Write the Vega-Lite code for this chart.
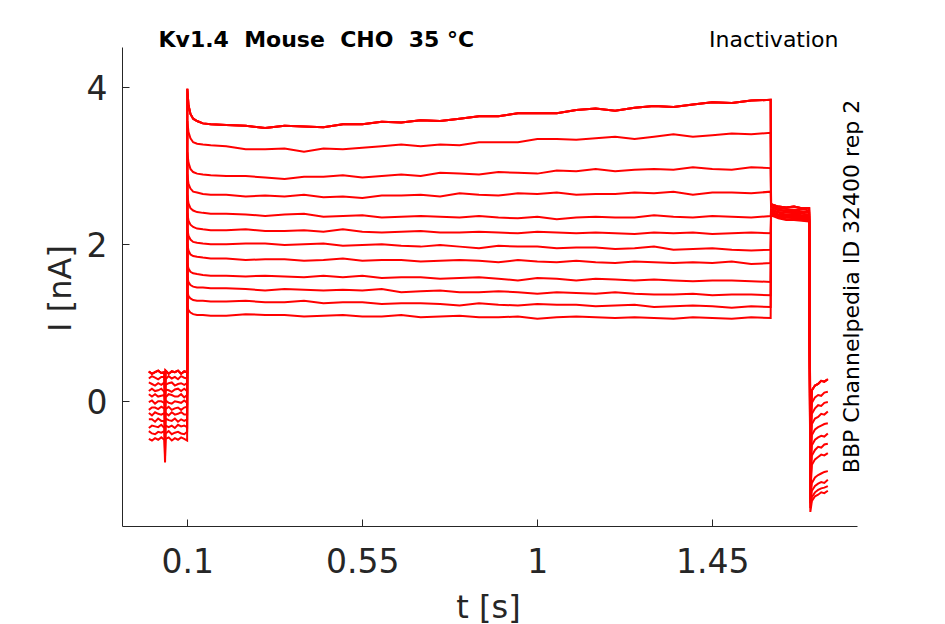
{
  "$schema": "https://vega.github.io/schema/vega-lite/v6.json",
  "width": 735,
  "height": 479,
  "autosize": {"type": "none"},
  "padding": {"left": 122, "top": 47, "right": 88, "bottom": 98},
  "background": "white",
  "config": {
    "view": {"stroke": null},
    "font": "DejaVu Sans",
    "axis": {"labelFont": "DejaVu Sans", "titleFont": "DejaVu Sans", "grid": false}
  },
  "data": {
    "values": [
      {"k":1,"t":0.001,"i":0.38},{"k":1,"t":0.009,"i":0.35},{"k":1,"t":0.017,"i":0.37},{"k":1,"t":0.025,"i":0.39},{"k":1,"t":0.033,"i":0.36},{"k":1,"t":0.041,"i":0.37},{"k":1,"t":0.0427,"i":0.07},{"k":1,"t":0.044,"i":0.39},{"k":1,"t":0.052,"i":0.35},{"k":1,"t":0.06,"i":0.38},{"k":1,"t":0.068,"i":0.37},{"k":1,"t":0.076,"i":0.39},{"k":1,"t":0.084,"i":0.35},{"k":1,"t":0.092,"i":0.38},{"k":1,"t":0.0995,"i":0.37},
      {"k":1,"t":0.1,"i":3.98},{"k":1,"t":0.103,"i":3.77},{"k":1,"t":0.108,"i":3.66},{"k":1,"t":0.115,"i":3.60},{"k":1,"t":0.125,"i":3.57},{"k":1,"t":0.14,"i":3.54},{"k":1,"t":0.16,"i":3.53},
      {"k":1,"t":0.2,"i":3.52},{"k":1,"t":0.25,"i":3.51},{"k":1,"t":0.3,"i":3.48},{"k":1,"t":0.35,"i":3.51},{"k":1,"t":0.4,"i":3.50},{"k":1,"t":0.45,"i":3.49},{"k":1,"t":0.5,"i":3.53},{"k":1,"t":0.55,"i":3.53},{"k":1,"t":0.6,"i":3.56},{"k":1,"t":0.65,"i":3.55},{"k":1,"t":0.7,"i":3.58},{"k":1,"t":0.75,"i":3.57},{"k":1,"t":0.8,"i":3.60},{"k":1,"t":0.85,"i":3.63},{"k":1,"t":0.9,"i":3.63},{"k":1,"t":0.95,"i":3.67},{"k":1,"t":1,"i":3.67},{"k":1,"t":1.05,"i":3.67},{"k":1,"t":1.1,"i":3.71},{"k":1,"t":1.15,"i":3.73},{"k":1,"t":1.2,"i":3.70},{"k":1,"t":1.25,"i":3.74},{"k":1,"t":1.3,"i":3.76},{"k":1,"t":1.35,"i":3.75},{"k":1,"t":1.4,"i":3.78},{"k":1,"t":1.45,"i":3.81},{"k":1,"t":1.5,"i":3.80},{"k":1,"t":1.55,"i":3.83},{"k":1,"t":1.6,"i":3.84},
      {"k":1,"t":1.601,"i":2.51},{"k":1,"t":1.62,"i":2.48},{"k":1,"t":1.64,"i":2.47},{"k":1,"t":1.66,"i":2.48},{"k":1,"t":1.68,"i":2.46},{"k":1,"t":1.699,"i":2.46},
      {"k":1,"t":1.702,"i":-0.40},{"k":1,"t":1.706,"i":0.14},{"k":1,"t":1.714,"i":0.20},{"k":1,"t":1.722,"i":0.22},{"k":1,"t":1.73,"i":0.26},{"k":1,"t":1.738,"i":0.25},{"k":1,"t":1.747,"i":0.28},

      {"k":2,"t":0.001,"i":0.29},{"k":2,"t":0.009,"i":0.32},{"k":2,"t":0.017,"i":0.30},{"k":2,"t":0.025,"i":0.28},{"k":2,"t":0.033,"i":0.31},{"k":2,"t":0.041,"i":0.31},{"k":2,"t":0.0427,"i":0.00},{"k":2,"t":0.044,"i":0.28},{"k":2,"t":0.052,"i":0.32},{"k":2,"t":0.06,"i":0.29},{"k":2,"t":0.068,"i":0.31},{"k":2,"t":0.076,"i":0.28},{"k":2,"t":0.084,"i":0.32},{"k":2,"t":0.092,"i":0.30},{"k":2,"t":0.0995,"i":0.29},
      {"k":2,"t":0.1,"i":3.57},{"k":2,"t":0.103,"i":3.43},{"k":2,"t":0.108,"i":3.35},{"k":2,"t":0.115,"i":3.30},{"k":2,"t":0.125,"i":3.28},{"k":2,"t":0.14,"i":3.27},{"k":2,"t":0.16,"i":3.26},
      {"k":2,"t":0.2,"i":3.25},{"k":2,"t":0.25,"i":3.21},{"k":2,"t":0.3,"i":3.21},{"k":2,"t":0.35,"i":3.22},{"k":2,"t":0.4,"i":3.18},{"k":2,"t":0.45,"i":3.22},{"k":2,"t":0.5,"i":3.21},{"k":2,"t":0.55,"i":3.23},{"k":2,"t":0.6,"i":3.25},{"k":2,"t":0.65,"i":3.27},{"k":2,"t":0.7,"i":3.25},{"k":2,"t":0.75,"i":3.27},{"k":2,"t":0.8,"i":3.26},{"k":2,"t":0.85,"i":3.30},{"k":2,"t":0.9,"i":3.30},{"k":2,"t":0.95,"i":3.30},{"k":2,"t":1,"i":3.34},{"k":2,"t":1.05,"i":3.34},{"k":2,"t":1.1,"i":3.33},{"k":2,"t":1.15,"i":3.35},{"k":2,"t":1.2,"i":3.37},{"k":2,"t":1.25,"i":3.34},{"k":2,"t":1.3,"i":3.37},{"k":2,"t":1.35,"i":3.40},{"k":2,"t":1.4,"i":3.37},{"k":2,"t":1.45,"i":3.39},{"k":2,"t":1.5,"i":3.41},{"k":2,"t":1.55,"i":3.40},{"k":2,"t":1.6,"i":3.42},
      {"k":2,"t":1.601,"i":2.50},{"k":2,"t":1.62,"i":2.46},{"k":2,"t":1.64,"i":2.45},{"k":2,"t":1.66,"i":2.44},{"k":2,"t":1.68,"i":2.45},{"k":2,"t":1.699,"i":2.43},
      {"k":2,"t":1.702,"i":-0.55},{"k":2,"t":1.706,"i":-0.02},{"k":2,"t":1.714,"i":0.05},{"k":2,"t":1.722,"i":0.08},{"k":2,"t":1.73,"i":0.07},{"k":2,"t":1.738,"i":0.11},{"k":2,"t":1.747,"i":0.12},

      {"k":3,"t":0.001,"i":0.24},{"k":3,"t":0.009,"i":0.22},{"k":3,"t":0.017,"i":0.20},{"k":3,"t":0.025,"i":0.23},{"k":3,"t":0.033,"i":0.21},{"k":3,"t":0.041,"i":0.24},{"k":3,"t":0.0427,"i":-0.08},{"k":3,"t":0.044,"i":0.21},{"k":3,"t":0.052,"i":0.23},{"k":3,"t":0.06,"i":0.24},{"k":3,"t":0.068,"i":0.20},{"k":3,"t":0.076,"i":0.22},{"k":3,"t":0.084,"i":0.23},{"k":3,"t":0.092,"i":0.21},{"k":3,"t":0.0995,"i":0.23},
      {"k":3,"t":0.1,"i":3.17},{"k":3,"t":0.103,"i":3.04},{"k":3,"t":0.108,"i":2.96},{"k":3,"t":0.115,"i":2.92},{"k":3,"t":0.125,"i":2.90},{"k":3,"t":0.14,"i":2.89},{"k":3,"t":0.16,"i":2.88},
      {"k":3,"t":0.2,"i":2.87},{"k":3,"t":0.25,"i":2.87},{"k":3,"t":0.3,"i":2.85},{"k":3,"t":0.35,"i":2.83},{"k":3,"t":0.4,"i":2.86},{"k":3,"t":0.45,"i":2.86},{"k":3,"t":0.5,"i":2.88},{"k":3,"t":0.55,"i":2.85},{"k":3,"t":0.6,"i":2.87},{"k":3,"t":0.65,"i":2.89},{"k":3,"t":0.7,"i":2.87},{"k":3,"t":0.75,"i":2.91},{"k":3,"t":0.8,"i":2.90},{"k":3,"t":0.85,"i":2.89},{"k":3,"t":0.9,"i":2.92},{"k":3,"t":0.95,"i":2.91},{"k":3,"t":1,"i":2.90},{"k":3,"t":1.05,"i":2.94},{"k":3,"t":1.1,"i":2.93},{"k":3,"t":1.15,"i":2.96},{"k":3,"t":1.2,"i":2.93},{"k":3,"t":1.25,"i":2.95},{"k":3,"t":1.3,"i":2.96},{"k":3,"t":1.35,"i":2.95},{"k":3,"t":1.4,"i":2.98},{"k":3,"t":1.45,"i":2.96},{"k":3,"t":1.5,"i":2.95},{"k":3,"t":1.55,"i":2.98},{"k":3,"t":1.6,"i":2.97},
      {"k":3,"t":1.601,"i":2.48},{"k":3,"t":1.62,"i":2.44},{"k":3,"t":1.64,"i":2.43},{"k":3,"t":1.66,"i":2.43},{"k":3,"t":1.68,"i":2.42},{"k":3,"t":1.699,"i":2.41},
      {"k":3,"t":1.702,"i":-0.70},{"k":3,"t":1.706,"i":-0.16},{"k":3,"t":1.714,"i":-0.09},{"k":3,"t":1.722,"i":-0.05},{"k":3,"t":1.73,"i":-0.06},{"k":3,"t":1.738,"i":-0.02},{"k":3,"t":1.747,"i":-0.01},

      {"k":4,"t":0.001,"i":0.13},{"k":4,"t":0.009,"i":0.16},{"k":4,"t":0.017,"i":0.13},{"k":4,"t":0.025,"i":0.14},{"k":4,"t":0.033,"i":0.16},{"k":4,"t":0.041,"i":0.12},{"k":4,"t":0.0427,"i":-0.16},{"k":4,"t":0.044,"i":0.15},{"k":4,"t":0.052,"i":0.14},{"k":4,"t":0.06,"i":0.12},{"k":4,"t":0.068,"i":0.15},{"k":4,"t":0.076,"i":0.16},{"k":4,"t":0.084,"i":0.13},{"k":4,"t":0.092,"i":0.16},{"k":4,"t":0.0995,"i":0.13},
      {"k":4,"t":0.1,"i":2.89},{"k":4,"t":0.103,"i":2.77},{"k":4,"t":0.108,"i":2.71},{"k":4,"t":0.115,"i":2.67},{"k":4,"t":0.125,"i":2.66},{"k":4,"t":0.14,"i":2.64},{"k":4,"t":0.16,"i":2.63},
      {"k":4,"t":0.2,"i":2.63},{"k":4,"t":0.25,"i":2.61},{"k":4,"t":0.3,"i":2.62},{"k":4,"t":0.35,"i":2.61},{"k":4,"t":0.4,"i":2.63},{"k":4,"t":0.45,"i":2.60},{"k":4,"t":0.5,"i":2.61},{"k":4,"t":0.55,"i":2.59},{"k":4,"t":0.6,"i":2.62},{"k":4,"t":0.65,"i":2.62},{"k":4,"t":0.7,"i":2.63},{"k":4,"t":0.75,"i":2.61},{"k":4,"t":0.8,"i":2.65},{"k":4,"t":0.85,"i":2.63},{"k":4,"t":0.9,"i":2.62},{"k":4,"t":0.95,"i":2.65},{"k":4,"t":1,"i":2.64},{"k":4,"t":1.05,"i":2.66},{"k":4,"t":1.1,"i":2.63},{"k":4,"t":1.15,"i":2.64},{"k":4,"t":1.2,"i":2.64},{"k":4,"t":1.25,"i":2.66},{"k":4,"t":1.3,"i":2.65},{"k":4,"t":1.35,"i":2.67},{"k":4,"t":1.4,"i":2.63},{"k":4,"t":1.45,"i":2.66},{"k":4,"t":1.5,"i":2.66},{"k":4,"t":1.55,"i":2.65},{"k":4,"t":1.6,"i":2.67},
      {"k":4,"t":1.601,"i":2.47},{"k":4,"t":1.62,"i":2.43},{"k":4,"t":1.64,"i":2.42},{"k":4,"t":1.66,"i":2.41},{"k":4,"t":1.68,"i":2.41},{"k":4,"t":1.699,"i":2.40},
      {"k":4,"t":1.702,"i":-0.80},{"k":4,"t":1.706,"i":-0.29},{"k":4,"t":1.714,"i":-0.22},{"k":4,"t":1.722,"i":-0.20},{"k":4,"t":1.73,"i":-0.16},{"k":4,"t":1.738,"i":-0.17},{"k":4,"t":1.747,"i":-0.13},

      {"k":5,"t":0.001,"i":0.09},{"k":5,"t":0.009,"i":0.06},{"k":5,"t":0.017,"i":0.09},{"k":5,"t":0.025,"i":0.06},{"k":5,"t":0.033,"i":0.07},{"k":5,"t":0.041,"i":0.08},{"k":5,"t":0.0427,"i":-0.23},{"k":5,"t":0.044,"i":0.05},{"k":5,"t":0.052,"i":0.09},{"k":5,"t":0.06,"i":0.08},{"k":5,"t":0.068,"i":0.06},{"k":5,"t":0.076,"i":0.06},{"k":5,"t":0.084,"i":0.09},{"k":5,"t":0.092,"i":0.05},{"k":5,"t":0.0995,"i":0.08},
      {"k":5,"t":0.1,"i":2.63},{"k":5,"t":0.103,"i":2.52},{"k":5,"t":0.108,"i":2.46},{"k":5,"t":0.115,"i":2.43},{"k":5,"t":0.125,"i":2.41},{"k":5,"t":0.14,"i":2.40},{"k":5,"t":0.16,"i":2.39},
      {"k":5,"t":0.2,"i":2.39},{"k":5,"t":0.25,"i":2.38},{"k":5,"t":0.3,"i":2.36},{"k":5,"t":0.35,"i":2.38},{"k":5,"t":0.4,"i":2.39},{"k":5,"t":0.45,"i":2.35},{"k":5,"t":0.5,"i":2.36},{"k":5,"t":0.55,"i":2.37},{"k":5,"t":0.6,"i":2.34},{"k":5,"t":0.65,"i":2.35},{"k":5,"t":0.7,"i":2.36},{"k":5,"t":0.75,"i":2.35},{"k":5,"t":0.8,"i":2.34},{"k":5,"t":0.85,"i":2.36},{"k":5,"t":0.9,"i":2.34},{"k":5,"t":0.95,"i":2.33},{"k":5,"t":1,"i":2.35},{"k":5,"t":1.05,"i":2.32},{"k":5,"t":1.1,"i":2.34},{"k":5,"t":1.15,"i":2.35},{"k":5,"t":1.2,"i":2.34},{"k":5,"t":1.25,"i":2.34},{"k":5,"t":1.3,"i":2.37},{"k":5,"t":1.35,"i":2.35},{"k":5,"t":1.4,"i":2.34},{"k":5,"t":1.45,"i":2.36},{"k":5,"t":1.5,"i":2.35},{"k":5,"t":1.55,"i":2.34},{"k":5,"t":1.6,"i":2.36},
      {"k":5,"t":1.601,"i":2.45},{"k":5,"t":1.62,"i":2.41},{"k":5,"t":1.64,"i":2.40},{"k":5,"t":1.66,"i":2.40},{"k":5,"t":1.68,"i":2.39},{"k":5,"t":1.699,"i":2.38},
      {"k":5,"t":1.702,"i":-0.90},{"k":5,"t":1.706,"i":-0.43},{"k":5,"t":1.714,"i":-0.36},{"k":5,"t":1.722,"i":-0.33},{"k":5,"t":1.73,"i":-0.31},{"k":5,"t":1.738,"i":-0.29},{"k":5,"t":1.747,"i":-0.28},

      {"k":6,"t":0.001,"i":-0.01},{"k":6,"t":0.009,"i":0.01},{"k":6,"t":0.017,"i":-0.03},{"k":6,"t":0.025,"i":0.00},{"k":6,"t":0.033,"i":0.00},{"k":6,"t":0.041,"i":-0.02},{"k":6,"t":0.0427,"i":-0.31},{"k":6,"t":0.044,"i":0.01},{"k":6,"t":0.052,"i":-0.02},{"k":6,"t":0.06,"i":-0.03},{"k":6,"t":0.068,"i":0.00},{"k":6,"t":0.076,"i":-0.01},{"k":6,"t":0.084,"i":-0.02},{"k":6,"t":0.092,"i":0.01},{"k":6,"t":0.0995,"i":-0.02},
      {"k":6,"t":0.1,"i":2.40},{"k":6,"t":0.103,"i":2.30},{"k":6,"t":0.108,"i":2.25},{"k":6,"t":0.115,"i":2.22},{"k":6,"t":0.125,"i":2.20},{"k":6,"t":0.14,"i":2.19},{"k":6,"t":0.16,"i":2.18},
      {"k":6,"t":0.2,"i":2.18},{"k":6,"t":0.25,"i":2.19},{"k":6,"t":0.3,"i":2.17},{"k":6,"t":0.35,"i":2.17},{"k":6,"t":0.4,"i":2.18},{"k":6,"t":0.45,"i":2.16},{"k":6,"t":0.5,"i":2.19},{"k":6,"t":0.55,"i":2.16},{"k":6,"t":0.6,"i":2.15},{"k":6,"t":0.65,"i":2.16},{"k":6,"t":0.7,"i":2.17},{"k":6,"t":0.75,"i":2.15},{"k":6,"t":0.8,"i":2.15},{"k":6,"t":0.85,"i":2.16},{"k":6,"t":0.9,"i":2.15},{"k":6,"t":0.95,"i":2.14},{"k":6,"t":1,"i":2.16},{"k":6,"t":1.05,"i":2.15},{"k":6,"t":1.1,"i":2.14},{"k":6,"t":1.15,"i":2.15},{"k":6,"t":1.2,"i":2.14},{"k":6,"t":1.25,"i":2.13},{"k":6,"t":1.3,"i":2.15},{"k":6,"t":1.35,"i":2.14},{"k":6,"t":1.4,"i":2.15},{"k":6,"t":1.45,"i":2.13},{"k":6,"t":1.5,"i":2.14},{"k":6,"t":1.55,"i":2.15},{"k":6,"t":1.6,"i":2.14},
      {"k":6,"t":1.601,"i":2.44},{"k":6,"t":1.62,"i":2.40},{"k":6,"t":1.64,"i":2.38},{"k":6,"t":1.66,"i":2.39},{"k":6,"t":1.68,"i":2.37},{"k":6,"t":1.699,"i":2.37},
      {"k":6,"t":1.702,"i":-1.00},{"k":6,"t":1.706,"i":-0.56},{"k":6,"t":1.714,"i":-0.49},{"k":6,"t":1.722,"i":-0.46},{"k":6,"t":1.73,"i":-0.44},{"k":6,"t":1.738,"i":-0.45},{"k":6,"t":1.747,"i":-0.41},

      {"k":7,"t":0.001,"i":-0.11},{"k":7,"t":0.009,"i":-0.08},{"k":7,"t":0.017,"i":-0.08},{"k":7,"t":0.025,"i":-0.10},{"k":7,"t":0.033,"i":-0.07},{"k":7,"t":0.041,"i":-0.09},{"k":7,"t":0.0427,"i":-0.39},{"k":7,"t":0.044,"i":-0.10},{"k":7,"t":0.052,"i":-0.07},{"k":7,"t":0.06,"i":-0.11},{"k":7,"t":0.068,"i":-0.09},{"k":7,"t":0.076,"i":-0.08},{"k":7,"t":0.084,"i":-0.11},{"k":7,"t":0.092,"i":-0.08},{"k":7,"t":0.0995,"i":-0.07},
      {"k":7,"t":0.1,"i":2.20},{"k":7,"t":0.103,"i":2.11},{"k":7,"t":0.108,"i":2.06},{"k":7,"t":0.115,"i":2.03},{"k":7,"t":0.125,"i":2.02},{"k":7,"t":0.14,"i":2.01},{"k":7,"t":0.16,"i":2.00},
      {"k":7,"t":0.2,"i":2.00},{"k":7,"t":0.25,"i":2.01},{"k":7,"t":0.3,"i":2.01},{"k":7,"t":0.35,"i":1.99},{"k":7,"t":0.4,"i":2.00},{"k":7,"t":0.45,"i":2.01},{"k":7,"t":0.5,"i":1.98},{"k":7,"t":0.55,"i":1.99},{"k":7,"t":0.6,"i":2.00},{"k":7,"t":0.65,"i":1.98},{"k":7,"t":0.7,"i":1.97},{"k":7,"t":0.75,"i":1.99},{"k":7,"t":0.8,"i":1.97},{"k":7,"t":0.85,"i":1.95},{"k":7,"t":0.9,"i":1.98},{"k":7,"t":0.95,"i":1.97},{"k":7,"t":1,"i":1.97},{"k":7,"t":1.05,"i":1.95},{"k":7,"t":1.1,"i":1.96},{"k":7,"t":1.15,"i":1.96},{"k":7,"t":1.2,"i":1.94},{"k":7,"t":1.25,"i":1.95},{"k":7,"t":1.3,"i":1.97},{"k":7,"t":1.35,"i":1.93},{"k":7,"t":1.4,"i":1.94},{"k":7,"t":1.45,"i":1.95},{"k":7,"t":1.5,"i":1.93},{"k":7,"t":1.55,"i":1.92},{"k":7,"t":1.6,"i":1.93},
      {"k":7,"t":1.601,"i":2.42},{"k":7,"t":1.62,"i":2.38},{"k":7,"t":1.64,"i":2.37},{"k":7,"t":1.66,"i":2.36},{"k":7,"t":1.68,"i":2.36},{"k":7,"t":1.699,"i":2.35},
      {"k":7,"t":1.702,"i":-1.10},{"k":7,"t":1.706,"i":-0.69},{"k":7,"t":1.714,"i":-0.62},{"k":7,"t":1.722,"i":-0.58},{"k":7,"t":1.73,"i":-0.59},{"k":7,"t":1.738,"i":-0.55},{"k":7,"t":1.747,"i":-0.54},

      {"k":8,"t":0.001,"i":-0.15},{"k":8,"t":0.009,"i":-0.18},{"k":8,"t":0.017,"i":-0.14},{"k":8,"t":0.025,"i":-0.16},{"k":8,"t":0.033,"i":-0.17},{"k":8,"t":0.041,"i":-0.15},{"k":8,"t":0.0427,"i":-0.46},{"k":8,"t":0.044,"i":-0.15},{"k":8,"t":0.052,"i":-0.18},{"k":8,"t":0.06,"i":-0.14},{"k":8,"t":0.068,"i":-0.17},{"k":8,"t":0.076,"i":-0.16},{"k":8,"t":0.084,"i":-0.14},{"k":8,"t":0.092,"i":-0.17},{"k":8,"t":0.0995,"i":-0.17},
      {"k":8,"t":0.1,"i":2.00},{"k":8,"t":0.103,"i":1.92},{"k":8,"t":0.108,"i":1.87},{"k":8,"t":0.115,"i":1.85},{"k":8,"t":0.125,"i":1.84},{"k":8,"t":0.14,"i":1.83},{"k":8,"t":0.16,"i":1.82},
      {"k":8,"t":0.2,"i":1.82},{"k":8,"t":0.25,"i":1.80},{"k":8,"t":0.3,"i":1.81},{"k":8,"t":0.35,"i":1.81},{"k":8,"t":0.4,"i":1.79},{"k":8,"t":0.45,"i":1.80},{"k":8,"t":0.5,"i":1.82},{"k":8,"t":0.55,"i":1.79},{"k":8,"t":0.6,"i":1.80},{"k":8,"t":0.65,"i":1.80},{"k":8,"t":0.7,"i":1.78},{"k":8,"t":0.75,"i":1.79},{"k":8,"t":0.8,"i":1.80},{"k":8,"t":0.85,"i":1.79},{"k":8,"t":0.9,"i":1.77},{"k":8,"t":0.95,"i":1.80},{"k":8,"t":1,"i":1.78},{"k":8,"t":1.05,"i":1.77},{"k":8,"t":1.1,"i":1.79},{"k":8,"t":1.15,"i":1.77},{"k":8,"t":1.2,"i":1.76},{"k":8,"t":1.25,"i":1.78},{"k":8,"t":1.3,"i":1.77},{"k":8,"t":1.35,"i":1.76},{"k":8,"t":1.4,"i":1.77},{"k":8,"t":1.45,"i":1.76},{"k":8,"t":1.5,"i":1.78},{"k":8,"t":1.55,"i":1.75},{"k":8,"t":1.6,"i":1.76},
      {"k":8,"t":1.601,"i":2.41},{"k":8,"t":1.62,"i":2.37},{"k":8,"t":1.64,"i":2.36},{"k":8,"t":1.66,"i":2.35},{"k":8,"t":1.68,"i":2.34},{"k":8,"t":1.699,"i":2.34},
      {"k":8,"t":1.702,"i":-1.18},{"k":8,"t":1.706,"i":-0.81},{"k":8,"t":1.714,"i":-0.74},{"k":8,"t":1.722,"i":-0.71},{"k":8,"t":1.73,"i":-0.68},{"k":8,"t":1.738,"i":-0.69},{"k":8,"t":1.747,"i":-0.66},

      {"k":9,"t":0.001,"i":-0.23},{"k":9,"t":0.009,"i":-0.23},{"k":9,"t":0.017,"i":-0.26},{"k":9,"t":0.025,"i":-0.22},{"k":9,"t":0.033,"i":-0.25},{"k":9,"t":0.041,"i":-0.25},{"k":9,"t":0.0427,"i":-0.54},{"k":9,"t":0.044,"i":-0.22},{"k":9,"t":0.052,"i":-0.24},{"k":9,"t":0.06,"i":-0.25},{"k":9,"t":0.068,"i":-0.22},{"k":9,"t":0.076,"i":-0.26},{"k":9,"t":0.084,"i":-0.23},{"k":9,"t":0.092,"i":-0.25},{"k":9,"t":0.0995,"i":-0.23},
      {"k":9,"t":0.1,"i":1.76},{"k":9,"t":0.103,"i":1.69},{"k":9,"t":0.108,"i":1.65},{"k":9,"t":0.115,"i":1.63},{"k":9,"t":0.125,"i":1.62},{"k":9,"t":0.14,"i":1.61},{"k":9,"t":0.16,"i":1.60},
      {"k":9,"t":0.2,"i":1.60},{"k":9,"t":0.25,"i":1.59},{"k":9,"t":0.3,"i":1.60},{"k":9,"t":0.35,"i":1.59},{"k":9,"t":0.4,"i":1.58},{"k":9,"t":0.45,"i":1.60},{"k":9,"t":0.5,"i":1.58},{"k":9,"t":0.55,"i":1.60},{"k":9,"t":0.6,"i":1.57},{"k":9,"t":0.65,"i":1.58},{"k":9,"t":0.7,"i":1.58},{"k":9,"t":0.75,"i":1.56},{"k":9,"t":0.8,"i":1.57},{"k":9,"t":0.85,"i":1.58},{"k":9,"t":0.9,"i":1.56},{"k":9,"t":0.95,"i":1.54},{"k":9,"t":1,"i":1.57},{"k":9,"t":1.05,"i":1.56},{"k":9,"t":1.1,"i":1.54},{"k":9,"t":1.15,"i":1.56},{"k":9,"t":1.2,"i":1.55},{"k":9,"t":1.25,"i":1.54},{"k":9,"t":1.3,"i":1.55},{"k":9,"t":1.35,"i":1.54},{"k":9,"t":1.4,"i":1.53},{"k":9,"t":1.45,"i":1.54},{"k":9,"t":1.5,"i":1.54},{"k":9,"t":1.55,"i":1.53},{"k":9,"t":1.6,"i":1.52},
      {"k":9,"t":1.601,"i":2.40},{"k":9,"t":1.62,"i":2.36},{"k":9,"t":1.64,"i":2.34},{"k":9,"t":1.66,"i":2.35},{"k":9,"t":1.68,"i":2.33},{"k":9,"t":1.699,"i":2.32},
      {"k":9,"t":1.702,"i":-1.25},{"k":9,"t":1.706,"i":-1.04},{"k":9,"t":1.714,"i":-0.97},{"k":9,"t":1.722,"i":-0.94},{"k":9,"t":1.73,"i":-0.92},{"k":9,"t":1.738,"i":-0.90},{"k":9,"t":1.747,"i":-0.89},

      {"k":10,"t":0.001,"i":-0.34},{"k":10,"t":0.009,"i":-0.31},{"k":10,"t":0.017,"i":-0.32},{"k":10,"t":0.025,"i":-0.33},{"k":10,"t":0.033,"i":-0.30},{"k":10,"t":0.041,"i":-0.34},{"k":10,"t":0.0427,"i":-0.62},{"k":10,"t":0.044,"i":-0.31},{"k":10,"t":0.052,"i":-0.33},{"k":10,"t":0.06,"i":-0.31},{"k":10,"t":0.068,"i":-0.34},{"k":10,"t":0.076,"i":-0.30},{"k":10,"t":0.084,"i":-0.32},{"k":10,"t":0.092,"i":-0.31},{"k":10,"t":0.0995,"i":-0.33},
      {"k":10,"t":0.1,"i":1.58},{"k":10,"t":0.103,"i":1.52},{"k":10,"t":0.108,"i":1.48},{"k":10,"t":0.115,"i":1.46},{"k":10,"t":0.125,"i":1.45},{"k":10,"t":0.14,"i":1.45},{"k":10,"t":0.16,"i":1.44},
      {"k":10,"t":0.2,"i":1.44},{"k":10,"t":0.25,"i":1.43},{"k":10,"t":0.3,"i":1.41},{"k":10,"t":0.35,"i":1.43},{"k":10,"t":0.4,"i":1.42},{"k":10,"t":0.45,"i":1.41},{"k":10,"t":0.5,"i":1.42},{"k":10,"t":0.55,"i":1.41},{"k":10,"t":0.6,"i":1.43},{"k":10,"t":0.65,"i":1.39},{"k":10,"t":0.7,"i":1.40},{"k":10,"t":0.75,"i":1.41},{"k":10,"t":0.8,"i":1.39},{"k":10,"t":0.85,"i":1.39},{"k":10,"t":0.9,"i":1.40},{"k":10,"t":0.95,"i":1.39},{"k":10,"t":1,"i":1.37},{"k":10,"t":1.05,"i":1.39},{"k":10,"t":1.1,"i":1.38},{"k":10,"t":1.15,"i":1.37},{"k":10,"t":1.2,"i":1.39},{"k":10,"t":1.25,"i":1.37},{"k":10,"t":1.3,"i":1.36},{"k":10,"t":1.35,"i":1.36},{"k":10,"t":1.4,"i":1.37},{"k":10,"t":1.45,"i":1.35},{"k":10,"t":1.5,"i":1.36},{"k":10,"t":1.55,"i":1.36},{"k":10,"t":1.6,"i":1.35},
      {"k":10,"t":1.601,"i":2.39},{"k":10,"t":1.62,"i":2.35},{"k":10,"t":1.64,"i":2.34},{"k":10,"t":1.66,"i":2.33},{"k":10,"t":1.68,"i":2.32},{"k":10,"t":1.699,"i":2.31},
      {"k":10,"t":1.702,"i":-1.30},{"k":10,"t":1.706,"i":-1.14},{"k":10,"t":1.714,"i":-1.08},{"k":10,"t":1.722,"i":-1.05},{"k":10,"t":1.73,"i":-1.03},{"k":10,"t":1.738,"i":-1.04},{"k":10,"t":1.747,"i":-1.00},

      {"k":11,"t":0.001,"i":-0.38},{"k":11,"t":0.009,"i":-0.41},{"k":11,"t":0.017,"i":-0.42},{"k":11,"t":0.025,"i":-0.39},{"k":11,"t":0.033,"i":-0.40},{"k":11,"t":0.041,"i":-0.38},{"k":11,"t":0.0427,"i":-0.70},{"k":11,"t":0.044,"i":-0.41},{"k":11,"t":0.052,"i":-0.38},{"k":11,"t":0.06,"i":-0.42},{"k":11,"t":0.068,"i":-0.40},{"k":11,"t":0.076,"i":-0.39},{"k":11,"t":0.084,"i":-0.41},{"k":11,"t":0.092,"i":-0.42},{"k":11,"t":0.0995,"i":-0.39},
      {"k":11,"t":0.1,"i":1.40},{"k":11,"t":0.103,"i":1.34},{"k":11,"t":0.108,"i":1.31},{"k":11,"t":0.115,"i":1.29},{"k":11,"t":0.125,"i":1.28},{"k":11,"t":0.14,"i":1.28},{"k":11,"t":0.16,"i":1.27},
      {"k":11,"t":0.2,"i":1.27},{"k":11,"t":0.25,"i":1.28},{"k":11,"t":0.3,"i":1.26},{"k":11,"t":0.35,"i":1.26},{"k":11,"t":0.4,"i":1.28},{"k":11,"t":0.45,"i":1.25},{"k":11,"t":0.5,"i":1.26},{"k":11,"t":0.55,"i":1.26},{"k":11,"t":0.6,"i":1.24},{"k":11,"t":0.65,"i":1.25},{"k":11,"t":0.7,"i":1.25},{"k":11,"t":0.75,"i":1.24},{"k":11,"t":0.8,"i":1.22},{"k":11,"t":0.85,"i":1.25},{"k":11,"t":0.9,"i":1.23},{"k":11,"t":0.95,"i":1.22},{"k":11,"t":1,"i":1.24},{"k":11,"t":1.05,"i":1.23},{"k":11,"t":1.1,"i":1.23},{"k":11,"t":1.15,"i":1.21},{"k":11,"t":1.2,"i":1.22},{"k":11,"t":1.25,"i":1.23},{"k":11,"t":1.3,"i":1.20},{"k":11,"t":1.35,"i":1.21},{"k":11,"t":1.4,"i":1.22},{"k":11,"t":1.45,"i":1.21},{"k":11,"t":1.5,"i":1.19},{"k":11,"t":1.55,"i":1.21},{"k":11,"t":1.6,"i":1.20},
      {"k":11,"t":1.601,"i":2.38},{"k":11,"t":1.62,"i":2.34},{"k":11,"t":1.64,"i":2.32},{"k":11,"t":1.66,"i":2.32},{"k":11,"t":1.68,"i":2.31},{"k":11,"t":1.699,"i":2.30},
      {"k":11,"t":1.702,"i":-1.36},{"k":11,"t":1.706,"i":-1.22},{"k":11,"t":1.714,"i":-1.16},{"k":11,"t":1.722,"i":-1.13},{"k":11,"t":1.73,"i":-1.11},{"k":11,"t":1.738,"i":-1.10},{"k":11,"t":1.747,"i":-1.08},

      {"k":12,"t":0.001,"i":-0.48},{"k":12,"t":0.009,"i":-0.50},{"k":12,"t":0.017,"i":-0.47},{"k":12,"t":0.025,"i":-0.49},{"k":12,"t":0.033,"i":-0.46},{"k":12,"t":0.041,"i":-0.49},{"k":12,"t":0.0427,"i":-0.78},{"k":12,"t":0.044,"i":-0.48},{"k":12,"t":0.052,"i":-0.46},{"k":12,"t":0.06,"i":-0.50},{"k":12,"t":0.068,"i":-0.47},{"k":12,"t":0.076,"i":-0.49},{"k":12,"t":0.084,"i":-0.46},{"k":12,"t":0.092,"i":-0.48},{"k":12,"t":0.0995,"i":-0.50},
      {"k":12,"t":0.1,"i":1.21},{"k":12,"t":0.103,"i":1.16},{"k":12,"t":0.108,"i":1.13},{"k":12,"t":0.115,"i":1.11},{"k":12,"t":0.125,"i":1.10},{"k":12,"t":0.14,"i":1.10},{"k":12,"t":0.16,"i":1.09},
      {"k":12,"t":0.2,"i":1.09},{"k":12,"t":0.25,"i":1.11},{"k":12,"t":0.3,"i":1.10},{"k":12,"t":0.35,"i":1.10},{"k":12,"t":0.4,"i":1.08},{"k":12,"t":0.45,"i":1.09},{"k":12,"t":0.5,"i":1.10},{"k":12,"t":0.55,"i":1.08},{"k":12,"t":0.6,"i":1.08},{"k":12,"t":0.65,"i":1.10},{"k":12,"t":0.7,"i":1.07},{"k":12,"t":0.75,"i":1.08},{"k":12,"t":0.8,"i":1.09},{"k":12,"t":0.85,"i":1.07},{"k":12,"t":0.9,"i":1.07},{"k":12,"t":0.95,"i":1.08},{"k":12,"t":1,"i":1.05},{"k":12,"t":1.05,"i":1.07},{"k":12,"t":1.1,"i":1.08},{"k":12,"t":1.15,"i":1.07},{"k":12,"t":1.2,"i":1.06},{"k":12,"t":1.25,"i":1.07},{"k":12,"t":1.3,"i":1.06},{"k":12,"t":1.35,"i":1.05},{"k":12,"t":1.4,"i":1.07},{"k":12,"t":1.45,"i":1.06},{"k":12,"t":1.5,"i":1.05},{"k":12,"t":1.55,"i":1.07},{"k":12,"t":1.6,"i":1.06},
      {"k":12,"t":1.601,"i":2.37},{"k":12,"t":1.62,"i":2.33},{"k":12,"t":1.64,"i":2.31},{"k":12,"t":1.66,"i":2.31},{"k":12,"t":1.68,"i":2.30},{"k":12,"t":1.699,"i":2.29},
      {"k":12,"t":1.702,"i":-1.41},{"k":12,"t":1.706,"i":-1.27},{"k":12,"t":1.714,"i":-1.21},{"k":12,"t":1.722,"i":-1.19},{"k":12,"t":1.73,"i":-1.16},{"k":12,"t":1.738,"i":-1.17},{"k":12,"t":1.747,"i":-1.14}
    ]
  },
  "layer": [
    {
      "mark": {"type": "line", "color": "#ff0000", "strokeWidth": 2, "clip": true},
      "encoding": {
        "x": {
          "field": "t", "type": "quantitative",
          "scale": {"domain": [-0.068, 1.822], "nice": false, "zero": false},
          "axis": {
            "orient": "bottom", "values": [0.1, 0.55, 1, 1.45], "labelExpr": "format(datum.value, '~g')",
            "title": "t [s]", "titleFontSize": 32, "titleFontWeight": "normal", "titleColor": "#262626",
            "titleX": 366, "titleY": 91, "titleAlign": "center", "titleBaseline": "alphabetic",
            "labelFontSize": 33, "labelColor": "#262626", "labelPadding": 27, "labelFlush": false, "labelOverlap": false,
            "domainColor": "#262626", "tickColor": "#262626", "tickSize": -7
          }
        },
        "y": {
          "field": "i", "type": "quantitative",
          "scale": {"domain": [-1.589, 4.513], "nice": false, "zero": false},
          "axis": {
            "orient": "left", "values": [0, 2, 4], "labelExpr": "format(datum.value, '~g')",
            "title": "I [nA]", "titleFontSize": 32, "titleFontWeight": "normal", "titleColor": "#262626",
            "titleX": -52, "titleY": 241, "titleAngle": 270, "titleAlign": "center", "titleBaseline": "alphabetic",
            "labelFontSize": 33, "labelColor": "#262626", "labelPadding": 22, "labelOffset": 2, "labelOverlap": false,
            "domainColor": "#262626", "tickColor": "#262626", "tickSize": -7
          }
        },
        "detail": {"field": "k", "type": "nominal"}
      }
    },
    {
      "transform": [{"filter": "datum.k == 1"}],
      "mark": {"type": "line", "color": "#ff0000", "strokeWidth": 2, "clip": true},
      "encoding": {
        "x": {
          "field": "t", "type": "quantitative",
          "axis": {
            "orient": "top", "labels": false, "ticks": false, "domain": false,
            "title": "Kv1.4\u00a0 Mouse\u00a0 CHO\u00a0 35 °C", "titleFontSize": 22, "titleFontWeight": "bold", "titleColor": "#000000",
            "titleX": 36, "titleY": -0.5, "titleAlign": "left", "titleBaseline": "alphabetic"
          }
        },
        "y": {
          "field": "i", "type": "quantitative",
          "axis": {
            "orient": "right", "labels": false, "ticks": false, "domain": false,
            "title": "BBP Channelpedia ID 32400 rep 2", "titleFontSize": 22, "titleFontWeight": "normal", "titleColor": "#000000",
            "titleX": 1, "titleY": 239, "titleAngle": 270, "titleAlign": "center", "titleBaseline": "alphabetic"
          }
        }
      }
    },
    {
      "transform": [{"filter": "datum.k == 1"}],
      "mark": {"type": "line", "color": "#ff0000", "strokeWidth": 2, "clip": true},
      "encoding": {
        "x": {
          "field": "t", "type": "quantitative",
          "axis": {
            "orient": "top", "labels": false, "ticks": false, "domain": false,
            "title": "Inactivation", "titleFontSize": 22, "titleFontWeight": "normal", "titleColor": "#000000",
            "titleX": 716, "titleY": -0.5, "titleAlign": "right", "titleBaseline": "alphabetic"
          }
        },
        "y": {"field": "i", "type": "quantitative", "axis": null}
      }
    }
  ],
  "resolve": {"axis": {"x": "independent", "y": "independent"}}
}
